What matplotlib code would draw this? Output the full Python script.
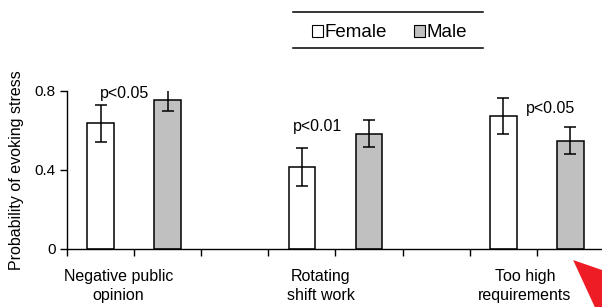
import matplotlib
matplotlib.use("Agg")
import matplotlib.pyplot as plt
from matplotlib.patches import Patch, Polygon
from matplotlib.lines import Line2D
import numpy as np

plt.rcParams['font.family'] = ['Liberation Sans', 'DejaVu Sans']

# data
categories = ["Negative public\nopinion", "Rotating\nshift work", "Too high\nrequirements"]
female = [0.635, 0.415, 0.672]
female_err = [0.094, 0.095, 0.092]
male = [0.755, 0.583, 0.546]
male_err = [0.06, 0.068, 0.068]
p_labels = ["p<0.05", "p<0.01", "p<0.05"]
p_heights = [0.787, 0.62, 0.711]

# slots on the category axis: female, male, empty gap
female_pos = np.array([0, 3, 6])
male_pos = female_pos + 1

fig = plt.figure(figsize=(6.02, 3.07), dpi=100)
ax = fig.add_axes([0.1113, 0.189, 0.892, 0.5157])

err_kw = dict(ecolor='black', elinewidth=1.1, capsize=4.3, capthick=1.1)
ax.bar(female_pos, female, width=0.4, color='white', edgecolor='black',
       linewidth=1.1, yerr=female_err, error_kw=err_kw, label='Female')
ax.bar(male_pos, male, width=0.4, color='#c0c0c0', edgecolor='black',
       linewidth=1.1, yerr=male_err, error_kw=err_kw, label='Male')

ax.set_xlim(-0.5, 7.5)
ax.set_ylim(0, 0.8)
ax.set_yticks([0, 0.4, 0.8])
ax.set_yticklabels(['0', '0.4', '0.8'])
ax.set_xticks(np.arange(-0.5, 8, 1))
ax.set_xticklabels([])
ax.tick_params(axis='both', direction='out', length=5, width=1, labelsize=11, pad=3)
for side in ['top', 'right']:
    ax.spines[side].set_visible(False)
for side in ['left', 'bottom']:
    ax.spines[side].set_linewidth(1)

ax.set_ylabel("Probability of evoking stress", fontsize=11.5, labelpad=8)

# category labels sit a bit left of the pair centres
label_x = [0.27, 3.28, 6.32]
for x, lab in zip(label_x, categories):
    ax.annotate(lab, xy=(x, 0), xycoords=('data', 'axes fraction'),
                xytext=(0, -14.5), textcoords='offset points',
                ha='center', va='top', fontsize=11.5, linespacing=1.3)

p_x = [0.36, 3.23, 6.71]
for x, y, t in zip(p_x, p_heights, p_labels):
    ax.text(x, y, t, ha='center', va='center', fontsize=11.5)

# legend with only top and bottom rules
handles = [Patch(facecolor='white', edgecolor='black', linewidth=0.8, label='Female'),
           Patch(facecolor='#c0c0c0', edgecolor='black', linewidth=0.8, label='Male')]
fig.legend(handles=handles, loc='center', bbox_to_anchor=(0.647, 0.893),
           ncol=2, frameon=False, fontsize=13.5, handlelength=0.6, handleheight=0.6,
           handletextpad=0.1, columnspacing=1.4, borderpad=0)
for yy in [0.961, 0.844]:
    fig.add_artist(Line2D([0.487, 0.802], [yy, yy], transform=fig.transFigure,
                          color='black', linewidth=1.1))

# red arrow fragment in the lower right corner
fig.add_artist(Polygon([[0.952, 0.153], [1.0, 0.1205], [1.0, 0.0], [0.988, 0.0]],
                       closed=True, transform=fig.transFigure,
                       facecolor='#ee1c25', edgecolor='none'))

fig.savefig("out.png", dpi=100)
